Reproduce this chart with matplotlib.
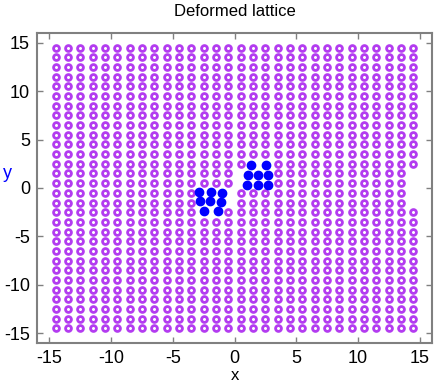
import numpy as np
import matplotlib
matplotlib.use("Agg")
import matplotlib.pyplot as plt

plt.rcParams['font.family'] = ['Liberation Sans', 'DejaVu Sans']
plt.rcParams['axes.unicode_minus'] = False

# lattice sites (half-integer grid)
lattice_cols = np.arange(-14.5, 15.0, 1.0)
lattice_rows = np.arange(-14.5, 15.0, 1.0)

# sites taken out of the lattice near the two dislocation cores: (row, x)
removed_sites = [
    (2.5, 1.5), (2.5, 2.5),
    (1.5, 0.5), (1.5, 1.5), (1.5, 2.5), (1.5, 14.5),
    (0.5, 0.5), (0.5, 1.5), (0.5, 2.5), (0.5, 14.5),
    (-0.5, -2.5), (-0.5, -1.5), (-0.5, -0.5), (-0.5, 14.5),
    (-1.5, -2.5), (-1.5, -1.5), (-1.5, -0.5), (-1.5, 14.5),
    (-2.5, -2.5), (-2.5, -1.5),
]

# core atoms (blue)
core_x = [-2.85, -1.90, -0.99, -2.79, -1.98, -1.12, -2.47, -1.36,
          1.33, 2.55, 1.07, 1.88, 2.73, 0.99, 1.88, 2.73]
core_y = [-0.38, -0.38, -0.48, -1.34, -1.34, -1.47, -2.36, -2.36,
          2.36, 2.36, 1.34, 1.34, 1.34, 0.36, 0.36, 0.36]

px, py = [], []
for yy in lattice_rows:
    for xx in lattice_cols:
        if (yy, xx) in removed_sites:
            continue
        px.append(xx)
        py.append(yy)

fig = plt.figure(figsize=(4.36, 3.85), dpi=100)
ax = fig.add_axes([37 / 436, 1 - 343 / 385, 395 / 436, 310 / 385])

ax.plot(px, py, ls='none', marker='o', ms=4.2, mew=2.0,
        mfc='white', mec='#b33cf0')
ax.plot(core_x, core_y, ls='none', marker='o', ms=6.0,
        mfc='#0000ff', mec='#0000ff')

ax.set_xlim(-16, 16)
ax.set_ylim(-16, 16)
ax.set_xticks([-15, -10, -5, 0, 5, 10, 15])
ax.set_yticks([-15, -10, -5, 0, 5, 10, 15])
ax.tick_params(direction='in', length=4, width=1, color='#808080',
               top=True, right=True, labelsize=13, pad=5)
for s in ax.spines.values():
    s.set_color('#808080')
    s.set_linewidth(1.5)

ax.set_title('Deformed lattice', fontsize=12, pad=12)
ax.set_xlabel('x', fontsize=12, labelpad=1)
ax.set_ylabel('y', fontsize=13, color='#0000ff', rotation=0)
ax.yaxis.set_label_coords(-0.075, 0.52)

fig.savefig('out.png', dpi=100)
